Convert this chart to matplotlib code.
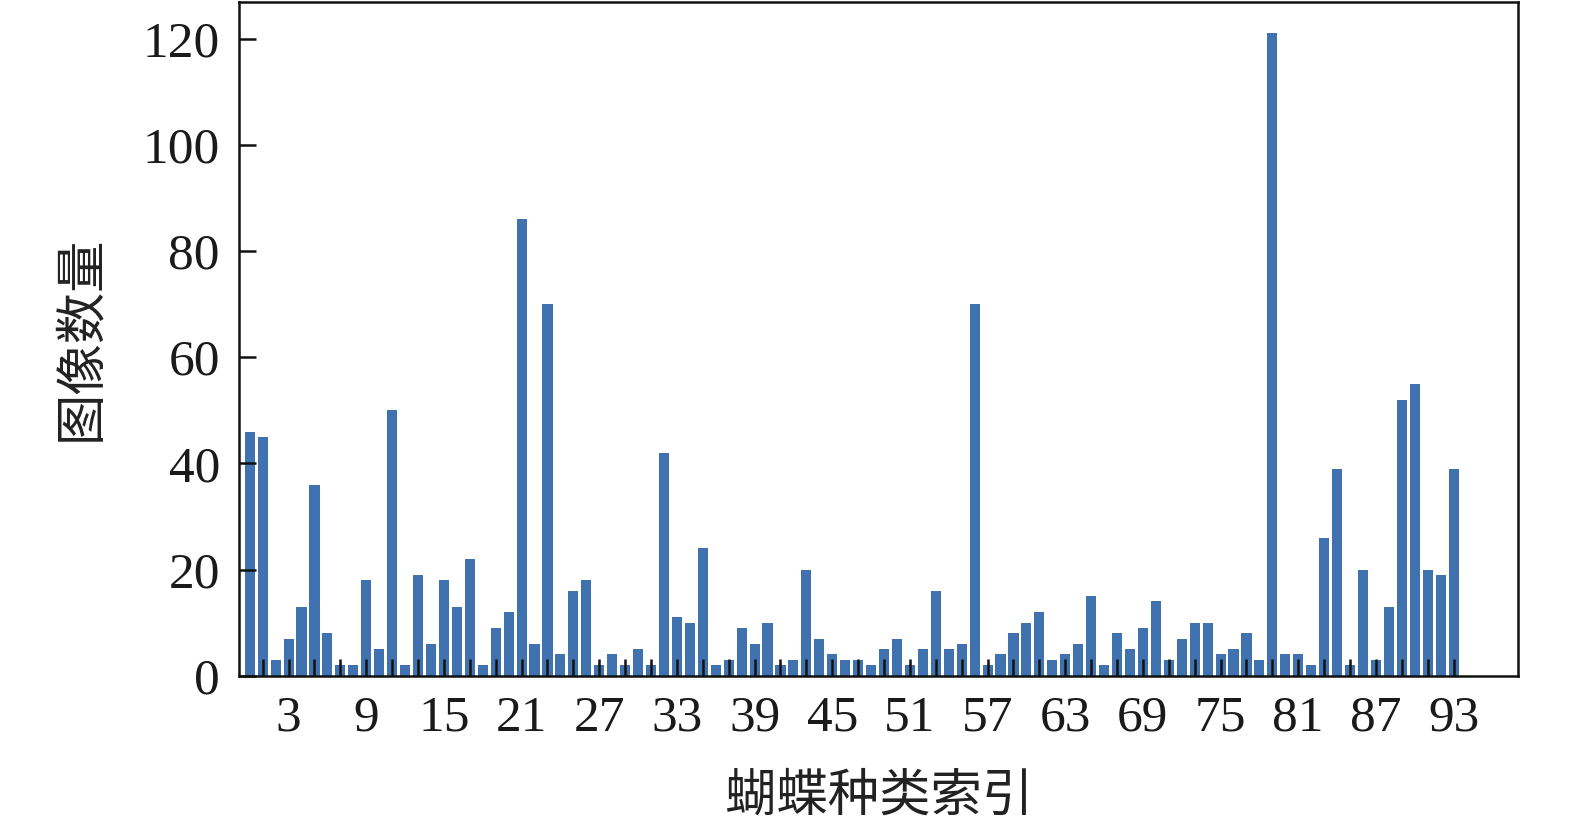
import matplotlib.pyplot as plt
import numpy as np

# image counts per butterfly species (index 0..93)
counts = [46, 45, 3, 7, 13, 36, 8, 2, 2, 18,
          5, 50, 2, 19, 6, 18, 13, 22, 2, 9,
          12, 86, 6, 70, 4, 16, 18, 2, 4, 2,
          5, 2, 42, 11, 10, 24, 2, 3, 9, 6,
          10, 2, 3, 20, 7, 4, 3, 3, 2, 5,
          7, 2, 5, 16, 5, 6, 70, 2, 4, 8,
          10, 12, 3, 4, 6, 15, 2, 8, 5, 9,
          14, 3, 7, 10, 10, 4, 5, 8, 3, 121,
          4, 4, 2, 26, 39, 2, 20, 3, 13, 52,
          55, 20, 19, 39]
tick_pos = list(range(1, 94, 2))
label_pos = list(range(3, 94, 6))
y_ticks = [0, 20, 40, 60, 80, 100, 120]

plt.rcParams['font.family'] = ['Liberation Serif', 'Noto Sans CJK SC']

fig = plt.figure(figsize=(15.75, 8.27), dpi=100)
ax = fig.add_axes([0.152, 0.183, 0.812, 0.815])

idx = np.arange(len(counts))
ax.bar(idx, counts, width=0.78, color='#3f72ae')

ax.set_xlim(-0.8, 98)
ax.set_ylim(0, 127)

ax.set_xticks(tick_pos)
ax.set_xticklabels([str(t) if t in label_pos else '' for t in tick_pos])
ax.set_yticks(y_ticks)

ax.tick_params(axis='both', direction='in', length=12, width=1.8,
               labelsize=37, color='#111111', labelcolor='#1a1a1a')
ax.tick_params(axis='x', pad=14)
ax.tick_params(axis='y', pad=14)

for s in ax.spines.values():
    s.set_linewidth(1.8)
    s.set_color('#111111')

ax.set_xlabel('蝴蝶种类索引', fontsize=37, family='Noto Sans CJK SC',
              fontweight='light', labelpad=20, color='#222222')
ax.set_ylabel('图像数量', fontsize=37, family='Noto Sans CJK SC',
              fontweight='light', labelpad=26, color='#222222')

fig.savefig('out.png', dpi=100)
